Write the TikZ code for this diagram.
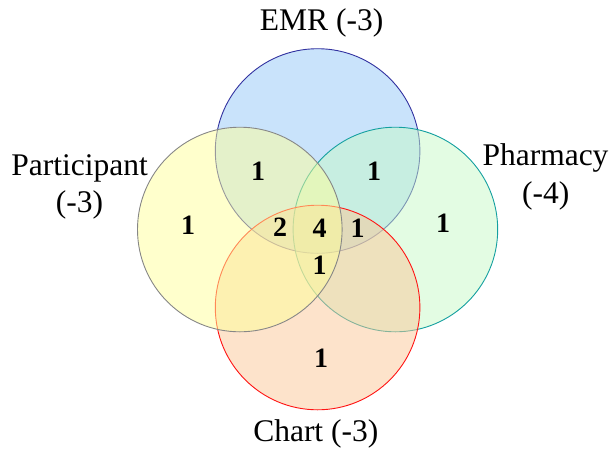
\documentclass[tikz,border=0pt]{standalone}
\usepackage{fontspec}
\setmainfont{Liberation Serif}
\definecolor{emrfill}{RGB}{147,199,247}
\definecolor{emrline}{RGB}{50,50,160}
\definecolor{partfill}{RGB}{255,255,153}
\definecolor{partline}{RGB}{135,135,135}
\definecolor{pharmfill}{RGB}{199,249,199}
\definecolor{pharmline}{RGB}{20,160,160}
\definecolor{chartfill}{RGB}{251,199,151}
\definecolor{chartline}{RGB}{255,20,20}
\tikzset{
  setcircle/.style={circle, minimum size=204.6pt, inner sep=0pt, line width=0.9pt, fill opacity=0.5, draw opacity=1},
  count/.style={font=\fontsize{28}{30}\selectfont\bfseries, inner sep=0pt, text height=0.68em, text depth=0pt, anchor=center},
  setlabel/.style={font=\fontsize{31.5}{38}\selectfont, inner sep=0pt, anchor=base, align=center}
}
\begin{document}
\begin{tikzpicture}[x=1pt, y=-1pt]
  \useasboundingbox (0,0) rectangle (611,448);
  % the four sets, drawn in this order so that later fills veil earlier rims
  \node[setcircle, draw=emrline, fill=emrfill] (emr) at (317.6,151) {};
  \node[setcircle, draw=pharmline, fill=pharmfill] (pharm) at (395.4,229.5) {};
  \node[setcircle, draw=chartline, fill=chartfill] (chart) at (317.6,307.5) {};
  \node[setcircle, draw=partline, fill=partfill] (part) at (239.8,229.5) {};

  % set names
  \node[setlabel] (lemr) at (321.6,30) {EMR (-3)};
  \node[setlabel] (lpart1) at (79.5,175) {Participant};
  \node[setlabel] (lpart2) at (79.5,212.5) {(-3)};
  \node[setlabel] (lpharm1) at (545.5,165) {Pharmacy};
  \node[setlabel] (lpharm2) at (545.8,203.5) {(-4)};
  \node[setlabel] (lchart) at (315.8,441.5) {Chart (-3)};

  % region counts
  \node[count] (cpart) at (188,231) {1};
  \node[count] (cemrpart) at (258,177) {1};
  \node[count] (cemrpharm) at (374,177) {1};
  \node[count] (cpharm) at (443,229.5) {1};
  \node[count] (ctwo) at (280,233) {2};
  \node[count] (call) at (319.5,234) {4};
  \node[count] (cright) at (357.5,234.5) {1};
  \node[count] (cbelow) at (319.5,271) {1};
  \node[count] (cchart) at (321,364) {1};
\end{tikzpicture}
\end{document}
